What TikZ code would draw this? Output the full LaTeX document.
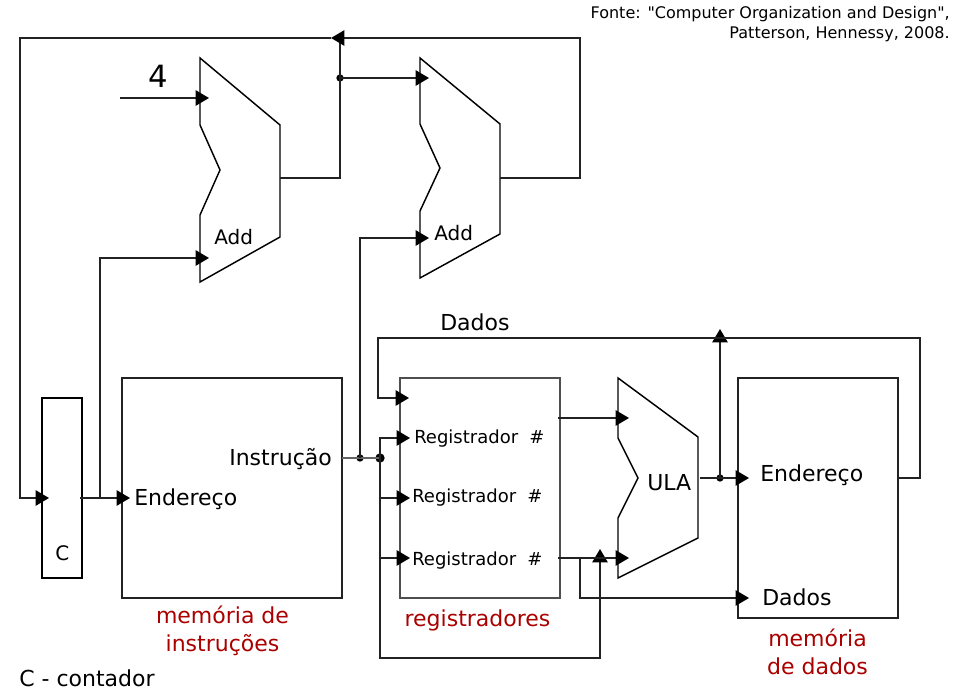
\documentclass[tikz,border=0pt]{standalone}
\usepackage{fontspec}
\setmainfont{DejaVu Sans}
\newfontfamily\plainquotes{DejaVu Sans}
\usetikzlibrary{arrows.meta,positioning}
\definecolor{ink}{HTML}{222222}
\definecolor{redlabel}{HTML}{AA0000}
\tikzset{
  x=0.75pt,y=-0.75pt,
  wire/.style={draw=ink,line width=1.1pt,line join=miter},
  arrowwire/.style={wire,-{Triangle[length=10pt,width=11.5pt,color=black]},shorten >=0pt},
  paleout/.style={draw=ink!70,line width=1.1pt},
  blockbox/.style={draw=ink,line width=1.1pt,inner sep=0pt,outer sep=0pt,anchor=north west},
  regbox/.style={blockbox,draw=ink!80,line width=.9pt},
  counterbox/.style={blockbox,draw=black,line width=1.4pt},
  alu/.style={draw=black,line width=1.1pt,line join=miter},
  dotsmall/.style={circle,fill=black,inner sep=0pt,minimum size=5.5pt},
  dotbig/.style={circle,fill=black,inner sep=0pt,minimum size=7pt},
  lab/.style={inner sep=0pt,anchor=base west,font=\fontsize{16.5}{20}\selectfont},
  reglab/.style={inner sep=0pt,anchor=base west,font=\fontsize{13.5}{16}\selectfont},
  addlab/.style={inner sep=0pt,anchor=base west,font=\fontsize{15}{18}\selectfont},
  redlab/.style={inner sep=0pt,anchor=base,text=redlabel,font=\fontsize{16.5}{20}\selectfont},
  srclab/.style={inner sep=0pt,anchor=base east,font=\plainquotes\fontsize{12}{15}\selectfont},
}
\begin{document}
\begin{tikzpicture}
\useasboundingbox (0,0) rectangle (957,698);
\fill[white] (0,0) rectangle (957,698);

% blocks
\node[blockbox,minimum width=165pt,minimum height=165pt] (imem) at (122,378) {};
\node[regbox,minimum width=120pt,minimum height=165pt] (regs) at (400,378) {};
\node[blockbox,minimum width=120pt,minimum height=180pt] (dmem) at (738,378) {};
\node[counterbox,minimum width=30pt,minimum height=135pt] (pc) at (42,398) {};

% adders and ALU
\draw[alu] (200,58) -- (280,125) -- (280,237) -- (200,282) -- (200,215) -- (220,170) -- (200,125) -- cycle;
\draw[alu] (420,58) -- (500,124) -- (500,234) -- (420,278) -- (420,211) -- (440,168) -- (420,124) -- cycle;
\draw[alu] (618,378) -- (698,437) -- (698,538) -- (618,578) -- (618,518) -- (638,478) -- (618,438) -- cycle;

% named ports
\coordinate (four) at (120,98);
\coordinate (addAa) at (209,98);
\coordinate (addAb) at (209,258);
\coordinate (addAout) at (280,178);
\coordinate (addBa) at (429,78);
\coordinate (addBb) at (429,238);
\coordinate (addBout) at (500,178);
\coordinate (topmerge) at (331,38);
\coordinate (pcin) at (49,498);
\coordinate (pcout) at (80,498);
\coordinate (imemin) at (130,498);
\coordinate (imemout) at (342,458);
\coordinate (regwr) at (409,398);
\coordinate (regA) at (410,438);
\coordinate (regB) at (410,498);
\coordinate (regC) at (410,558);
\coordinate (regoutA) at (558,418);
\coordinate (regoutB) at (558,558);
\coordinate (aluA) at (629,418);
\coordinate (aluB) at (629,558);
\coordinate (aluout) at (700,478);
\coordinate (dmemaddr) at (749,478);
\coordinate (dmemdata) at (749,598);
\coordinate (dmemout) at (899,478);
\coordinate (immup) at (600,549);
\coordinate (fwdup) at (720,329);
\coordinate (pcbranch) at (100,498);
\coordinate (regbranch) at (580,558);
\coordinate (busB) at (380,498);
\coordinate (busC) at (380,558);
\node[dotsmall] (jadd) at (340,78) {};
\node[dotsmall] (jinsA) at (360,458) {};
\node[dotbig] (jinsB) at (380,458) {};
\node[dotsmall] (jalu) at (720,478) {};

% connectors
\draw[arrowwire] (four) -- (addAa);
\draw[arrowwire] (pcbranch) -- (100,258) -- (addAb);
\draw[arrowwire] (pcout) -- (imemin);
\draw[wire] (addAout) -- (340,178) -- (340,38);
\draw[arrowwire] (jadd.center) -- (addBa);
\draw[arrowwire] (addBout) -- (580,178) -- (580,38) -- (topmerge);
\draw[arrowwire] (topmerge) -- (20,38) -- (20,498) -- (pcin);
\draw[paleout] (imemout) -- (jinsB.center);
\draw[arrowwire] (jinsA.center) -- (360,238) -- (addBb);
\draw[arrowwire] (jinsB.center) -- (380,438) -- (regA);
\draw[arrowwire] (busB) -- (regB);
\draw[arrowwire] (busC) -- (regC);
\draw[arrowwire] (jinsB.center) -- (380,658) -- (600,658) -- (immup);
\draw[arrowwire] (regoutA) -- (aluA);
\draw[arrowwire] (regoutB) -- (aluB);
\draw[arrowwire] (regbranch) -- (580,598) -- (dmemdata);
\draw[arrowwire] (aluout) -- (dmemaddr);
\draw[arrowwire] (jalu.center) -- (fwdup);
\draw[arrowwire] (dmemout) -- (920,478) -- (920,338) -- (378,338) -- (378,398) -- (regwr);

% labels
\node[srclab] (srcA) at (950,18.5) {Fonte: "Computer Organization and Design",};
\node[srclab] (srcB) at (950,38.5) {Patterson, Hennessy, 2008.};
\node[inner sep=0pt,anchor=base west,font=\fontsize{23}{27}\selectfont] (lfour) at (148,88) {4};
\node[addlab] (laddA) at (214,245) {Add};
\node[addlab] (laddB) at (434,241) {Add};
\node[lab] (ldados) at (440,331) {Dados};
\node[lab] (lins) at (229,465) {Instrução};
\node[lab] (lend) at (134,505) {Endereço};
\node[addlab] (lc) at (55,560) {C};
\node[reglab] (lrA) at (414,444) {Registrador\hspace{.62em}\#};
\node[reglab] (lrB) at (412,503) {Registrador\hspace{.62em}\#};
\node[reglab] (lrC) at (412,565) {Registrador\hspace{.62em}\#};
\node[lab] (lula) at (647,490) {ULA};
\node[lab] (lendB) at (760,482) {Endereço};
\node[lab] (ldadosB) at (762,605) {Dados};
\node[redlab] (rA) at (222.5,623) {memória de};
\node[redlab] (rB) at (222.5,651) {instruções};
\node[redlab] (rC) at (477.5,626) {registradores};
\node[redlab] (rD) at (817.5,646) {memória};
\node[redlab] (rE) at (817.5,674) {de dados};
\node[lab] (lcont) at (19,686) {C - contador};
\end{tikzpicture}
\end{document}
